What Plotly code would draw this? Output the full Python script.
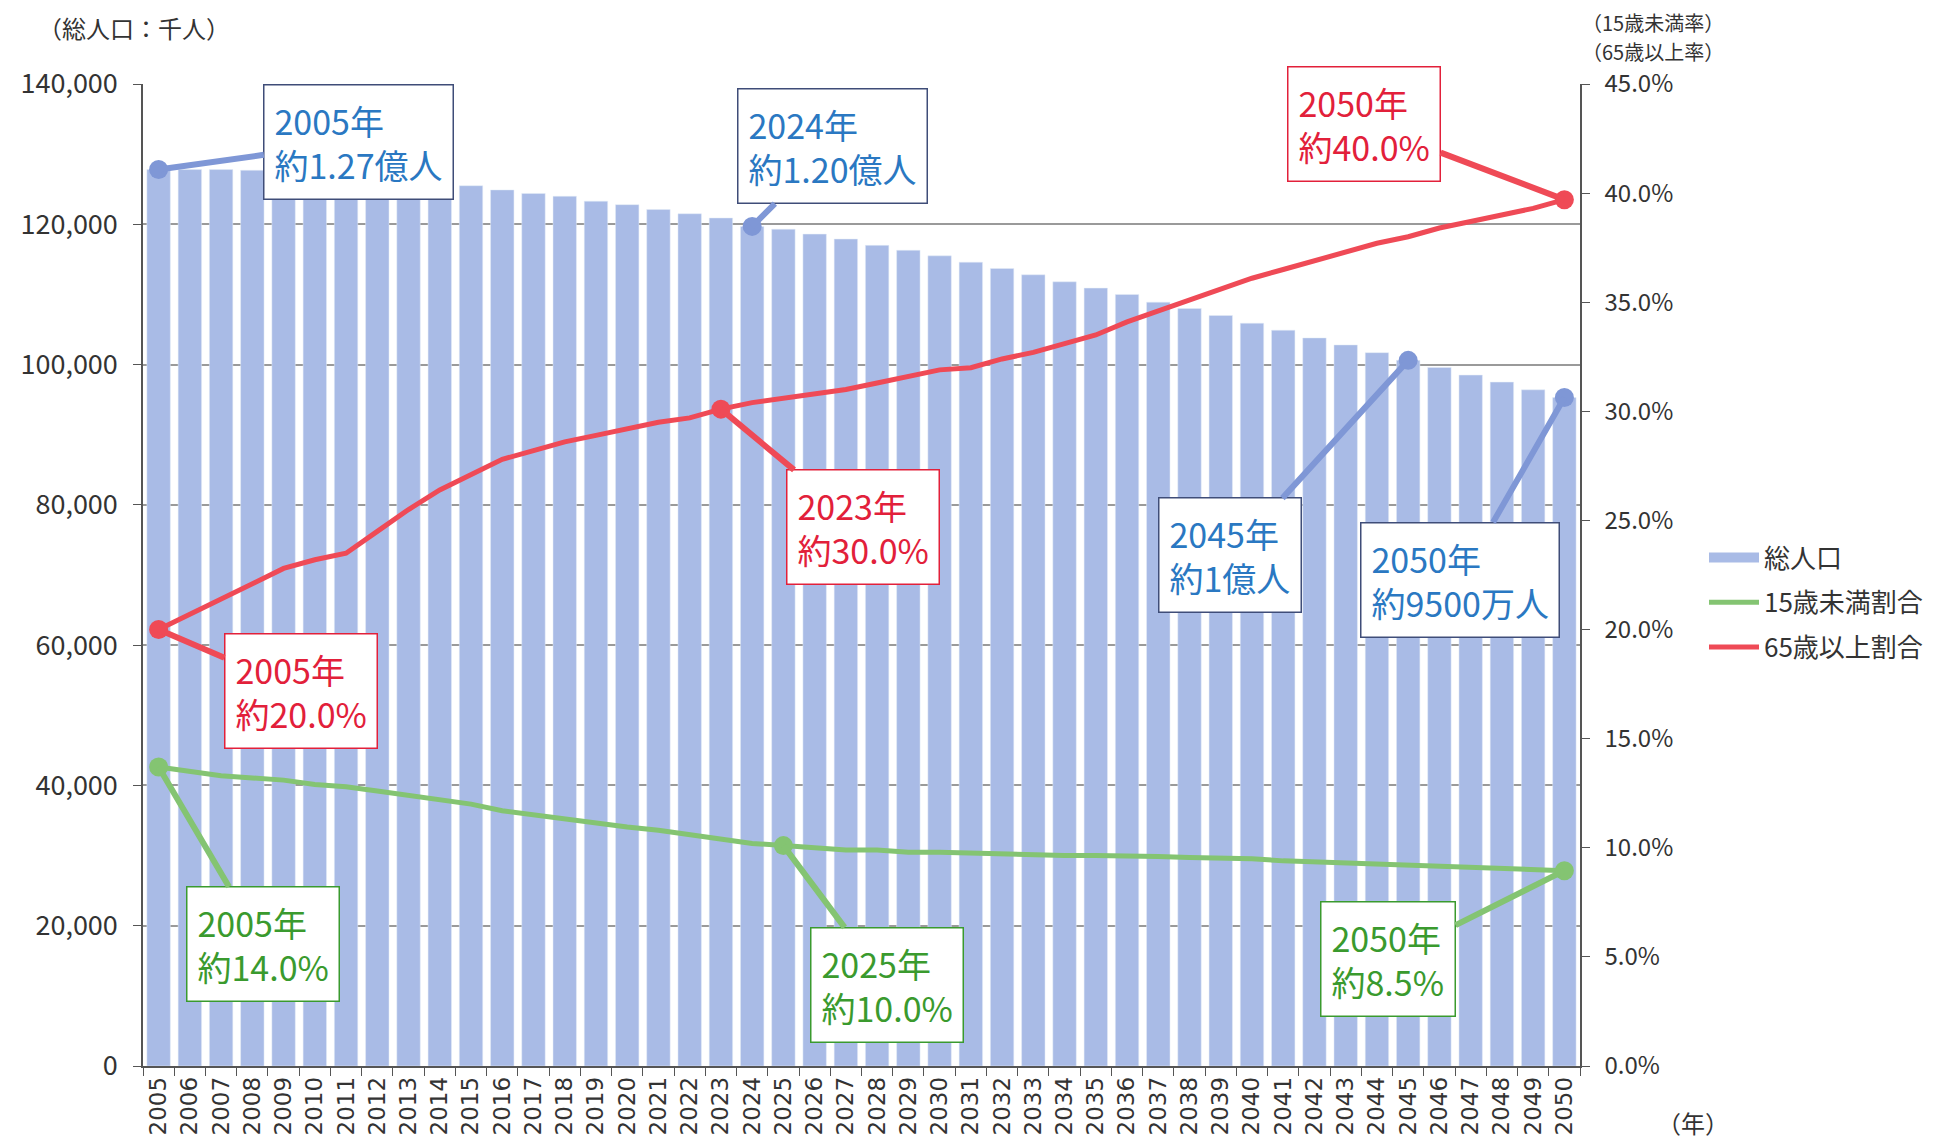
import plotly.graph_objects as go

years = [str(y) for y in range(2005, 2051)]

# 総人口 (千人)
total_pop = [127800, 127800, 127800, 127700, 127500, 127300, 127000, 126700, 126400, 126000,
             125500, 124900, 124400, 124000, 123300, 122800, 122100, 121500, 120900, 119700,
             119300, 118600, 117900, 117000, 116300, 115500, 114600, 113700, 112800, 111800,
             110900, 110000, 108900, 108000, 107000, 105900, 104900, 103800, 102800, 101700,
             100600, 99600, 98500, 97500, 96400, 95300]

# 15歳未満割合 (%)
under15 = [13.7, 13.5, 13.3, 13.2, 13.1, 12.9, 12.8, 12.6, 12.4, 12.2,
           12.0, 11.7, 11.5, 11.3, 11.1, 10.95, 10.8, 10.6, 10.4, 10.2,
           10.1, 10.0, 9.9, 9.9, 9.8, 9.8, 9.75, 9.75, 9.7, 9.65,
           9.65, 9.65, 9.6, 9.55, 9.55, 9.5, 9.4, 9.35, 9.3, 9.25,
           9.2, 9.1, 9.05, 9.0, 9.0, 8.95]

# 65歳以上割合 (%)
over65 = [20.0, 20.7, 21.4, 22.1, 22.8, 23.2, 23.5, 24.5, 25.5, 26.4,
          27.1, 27.8, 28.2, 28.6, 28.9, 29.2, 29.5, 29.7, 30.1, 30.4,
          30.6, 30.8, 31.0, 31.3, 31.6, 31.9, 32.0, 32.4, 32.7, 33.1,
          33.5, 34.1, 34.6, 35.1, 35.6, 36.1, 36.5, 36.9, 37.3, 37.7,
          38.0, 38.4, 38.7, 39.0, 39.3, 39.7]

left_ticks = list(range(0, 140001, 20000))
right_ticks = [0, 5, 10, 15, 20, 25, 30, 35, 40, 45]

BAR = "#a9bbe6"
BLUE = "#7f97d6"
RED = "#ef4a56"
GREEN = "#84c472"
FONT = "Noto Sans CJK JP"

W, H = 1946, 1143
ML, MR, MT, MB = 120, 374, 76, 85
PAGE = 8  # body margin of the html page


def px_x(px):
    return (px - PAGE - ML) / (W - ML - MR)


def px_y(py):
    return (H - MB - (py - PAGE)) / (H - MT - MB)


# callouts: (series, year, text, text colour, border colour, ax, ay)
callouts = [
    ("pop", "2005", "2005年<br>約1.27億人", "#2a78c2", "#3f4d78", 200, -28),
    ("pop", "2024", "2024年<br>約1.20億人", "#2a78c2", "#3f4d78", 80, -80),
    ("pop", "2045", "2045年<br>約1億人", "#2a78c2", "#3f4d78", -178, 195),
    ("pop", "2050", "2050年<br>約9500万人", "#2a78c2", "#3f4d78", -104, 182),
    ("old", "2005", "2005年<br>約20.0%", "#e2203a", "#e2203a", 142, 61),
    ("old", "2023", "2023年<br>約30.0%", "#e2203a", "#e2203a", 142, 118),
    ("old", "2050", "2050年<br>約40.0%", "#e2203a", "#e2203a", -200, -76),
    ("young", "2005", "2005年<br>約14.0%", "#3a9a2e", "#3a9a2e", 104, 177),
    ("young", "2025", "2025年<br>約10.0%", "#3a9a2e", "#3a9a2e", 104, 139),
    ("young", "2050", "2050年<br>約8.5%", "#3a9a2e", "#3a9a2e", -176, 88),
]
series = {"pop": (total_pop, "y", BLUE), "old": (over65, "y2", RED), "young": (under15, "y2", GREEN)}

fig = go.Figure()
fig.add_trace(go.Bar(x=years, y=total_pop, name="総人口", marker_color=BAR, showlegend=False))
# legend entry for the bars, drawn as a wide swatch
fig.add_trace(go.Scatter(x=[None], y=[None], name="総人口", mode="lines",
                         line=dict(color=BAR, width=14), legendgroup="a"))
fig.add_trace(go.Scatter(x=years, y=under15, name="15歳未満割合", mode="lines", yaxis="y2",
                         line=dict(color=GREEN, width=5), legendgroup="b"))
fig.add_trace(go.Scatter(x=years, y=over65, name="65歳以上割合", mode="lines", yaxis="y2",
                         line=dict(color=RED, width=5), legendgroup="c"))

# dots at the callout points
for key in ["pop", "old", "young"]:
    vals, axis, col = series[key]
    xs = [c[1] for c in callouts if c[0] == key]
    ys = [vals[years.index(x)] for x in xs]
    fig.add_trace(go.Scatter(x=xs, y=ys, mode="markers", yaxis=axis, showlegend=False,
                             marker=dict(color=col, size=19)))

for key, yr, txt, tcol, bcol, ax, ay in callouts:
    vals, axis, col = series[key]
    i = years.index(yr)
    fig.add_annotation(x=i, y=vals[i], xref="x", yref=axis, text=txt,
                       showarrow=True, arrowhead=0, arrowwidth=6, arrowcolor=col, standoff=0,
                       ax=ax, ay=ay, align="left", bgcolor="white", bordercolor=bcol,
                       borderwidth=1.5, borderpad=10,
                       font=dict(family=FONT, size=34, color=tcol))

# axis titles
fig.add_annotation(text="（総人口：千人）", xref="paper", yref="paper", x=px_x(20), y=px_y(27),
                   xanchor="left", yanchor="middle", showarrow=False,
                   font=dict(family=FONT, size=24, color="#333"))
for txt, py in [("（15歳未満率）", 23), ("（65歳以上率）", 52)]:
    fig.add_annotation(text=txt, xref="paper", yref="paper", x=px_x(1654), y=px_y(py),
                       xanchor="center", yanchor="middle", showarrow=False,
                       font=dict(family=FONT, size=20, color="#333"))
fig.add_annotation(text="（年）", xref="paper", yref="paper", x=px_x(1694),
                   y=px_y(1122), xanchor="center", yanchor="middle", showarrow=False,
                   font=dict(family=FONT, size=24, color="#333"))

fig.update_layout(
    width=W, height=H,
    margin=dict(l=ML, r=MR, t=MT, b=MB),
    paper_bgcolor="white", plot_bgcolor="white",
    font=dict(family=FONT, color="#333"),
    bargap=0.25,
    legend=dict(xref="container", yref="container", x=1696 / W, y=1 - 526 / H,
                xanchor="left", yanchor="top", traceorder="grouped", tracegroupgap=8,
                itemwidth=50, font=dict(family=FONT, size=26, color="#333")),
    xaxis=dict(type="category", categoryorder="array", categoryarray=years,
               range=[-0.5, len(years) - 0.5], tickangle=-90, tickson="boundaries",
               ticks="outside", ticklen=8, tickcolor="#555", showline=True, linecolor="#555",
               linewidth=1.5, tickfont=dict(family="DejaVu Sans", size=23, color="#333"),
               showgrid=False),
    yaxis=dict(range=[0, 140000], tickvals=left_ticks, tickformat=",", ticks="outside",
               ticklen=8, tickcolor="#555", showline=True, linecolor="#555", linewidth=1.5,
               gridcolor="#9a9a9a", gridwidth=1.5, zeroline=False, ticklabelstandoff=10,
               tickfont=dict(family=FONT, size=27, color="#333")),
    yaxis2=dict(range=[0, 45], tickvals=right_ticks,
                ticktext=[f"{v:.1f}%" for v in right_ticks],
                overlaying="y", side="right", ticks="outside", ticklen=8, tickcolor="#555",
                showline=True, linecolor="#555", linewidth=1.5, showgrid=False, zeroline=False,
                ticklabelstandoff=10, tickfont=dict(family=FONT, size=24, color="#333")),
)

fig.write_html("out.html")
